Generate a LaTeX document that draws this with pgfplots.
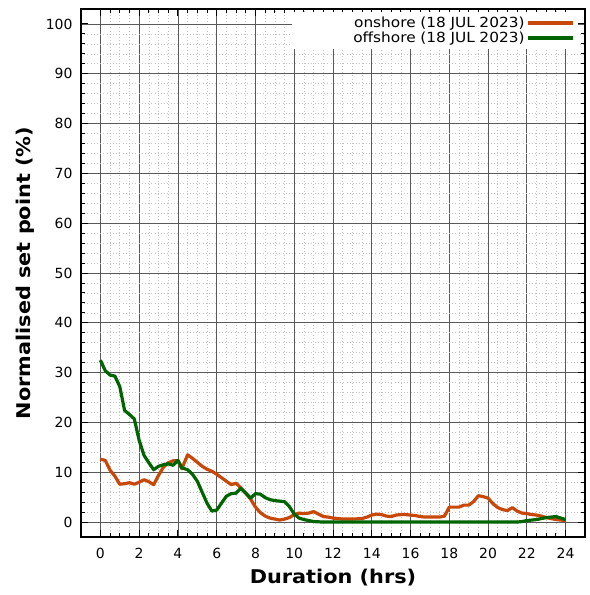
\documentclass[border=0pt]{standalone}
\usepackage{fontspec}
\setmainfont{DejaVu Sans}
\newfontfamily\widefont[FakeStretch=1.1]{DejaVu Sans}
\usepackage{pgfplots}
\pgfplotsset{compat=1.18}
\definecolor{onsh}{RGB}{200,72,10}
\definecolor{offsh}{RGB}{0,100,0}
\begin{document}
\begin{tikzpicture}
\begin{axis}[
  scale only axis, width=504bp, height=528bp,
  xmin=-1, xmax=25, ymin=-3, ymax=103,
  xtick={0,2,...,24}, ytick={0,10,...,100},
  minor x tick num=3, minor y tick num=4,
  grid=both,
  major grid style={black!65, line width=0.7bp},
  minor grid style={black!24, dash pattern=on 0.8bp off 2.4bp, line width=0.6bp},
  tick align=inside,
  major tick length=7bp, minor tick length=4bp,
  tick style={black, line width=0.9bp},
  axis line style={black, line width=1.3bp},
  /pgf/number format/assume math mode=true,
  ticklabel style={font=\fontsize{14}{16}\selectfont},
  yticklabel style={anchor=east, xshift=-5bp},
  xticklabel style={anchor=center, yshift=-16bp},
  xlabel={Duration (hrs)}, ylabel={Normalised set point (\%)},
  label style={font=\widefont\fontsize{19}{22}\selectfont\bfseries},
  xlabel style={at={(axis description cs:0.5,0)}, anchor=center, yshift=-41bp},
  ylabel style={at={(axis description cs:0,0.5)}, anchor=center, yshift=56bp},
  legend style={at={(rel axis cs:0.986,0.994)}, anchor=north east, draw=none, fill=white,
    font=\widefont\fontsize{14}{16}\selectfont, row sep=0bp, inner xsep=3bp, inner ysep=3bp,
    nodes={text width=228bp, align=right, inner ysep=1.5bp}},
  legend cell align=right, legend plot pos=right,
  legend image code/.code={\draw[#1, line width=3.2bp] (0bp,0bp) -- (45bp,0bp);},
  every axis plot/.append style={line width=3.2bp, line join=round},
]
\addplot[color=onsh] coordinates {
(0,12.6) (0.25,12.4) (0.5,10.4) (0.75,9.2) (1.0,7.6) (1.25,7.7) (1.5,7.9) (1.75,7.6)
(2.0,8.0) (2.25,8.5) (2.5,8.1) (2.75,7.5) (3.0,9.4) (3.25,11.0) (3.5,11.9) (3.75,12.3)
(4.0,12.3) (4.2,10.7) (4.5,13.5) (4.75,12.8) (5.0,12.0) (5.25,11.2) (5.5,10.6) (5.75,10.2)
(6.0,9.6) (6.25,8.9) (6.5,8.2) (6.75,7.5) (7.0,7.8) (7.25,6.8) (7.5,5.8) (7.75,4.6)
(8.0,3.0) (8.25,1.9) (8.5,1.2) (8.75,0.8) (9.0,0.6) (9.25,0.4) (9.5,0.6) (9.75,0.9)
(10.0,1.5) (10.25,1.8) (10.5,1.7) (10.75,1.8) (11.0,2.1) (11.25,1.6) (11.5,1.1) (11.75,1.0)
(12.0,0.8) (12.5,0.6) (13.0,0.6) (13.5,0.7) (13.75,1.0) (14.0,1.4) (14.25,1.6) (14.5,1.5)
(14.75,1.2) (15.0,1.1) (15.25,1.4) (15.5,1.5) (15.75,1.5) (16.0,1.4) (16.25,1.3) (16.5,1.1)
(16.75,1.0) (17.0,1.0) (17.25,1.0) (17.5,1.0) (17.75,1.2) (18.0,3.0) (18.25,3.0) (18.5,3.0)
(18.75,3.4) (19.0,3.4) (19.25,4.1) (19.5,5.3) (19.75,5.1) (20.0,4.8) (20.25,3.7) (20.5,2.9)
(20.75,2.5) (21.0,2.3) (21.25,2.9) (21.5,2.2) (21.75,1.8) (22.0,1.7) (22.25,1.5) (22.5,1.4)
(22.75,1.2) (23.0,0.9) (23.25,0.7) (23.5,0.5) (23.75,0.4) (24.0,0.3)
};
\addlegendentry{onshore (18 JUL 2023)}
\addplot[color=offsh] coordinates {
(0,32.5) (0.25,30.4) (0.5,29.5) (0.75,29.3) (1.0,27.2) (1.25,22.4) (1.5,21.6) (1.75,20.7)
(2.0,16.4) (2.25,13.4) (2.5,11.9) (2.75,10.5) (3.0,11.2) (3.25,11.5) (3.5,11.7) (3.75,11.4)
(4.0,12.4) (4.2,10.9) (4.5,10.5) (4.75,9.6) (5.0,8.2) (5.25,6.0) (5.5,3.8) (5.75,2.2)
(6.0,2.4) (6.25,3.8) (6.5,5.2) (6.75,5.7) (7.0,5.8) (7.25,6.8) (7.5,5.8) (7.75,4.8)
(8.0,5.7) (8.25,5.6) (8.5,4.9) (8.75,4.5) (9.0,4.3) (9.25,4.2) (9.5,4.1) (9.75,3.1)
(10.0,1.6) (10.25,0.8) (10.5,0.5) (10.75,0.3) (11.0,0.1) (11.5,0.0) (12.0,0.0) (13.0,0.0)
(14.0,0.0) (15.0,0.0) (16.0,0.0) (17.0,0.0) (18.0,0.0) (19.0,0.0) (20.0,0.0) (21.0,0.0)
(21.5,0.0) (21.75,0.1) (22.0,0.3) (22.25,0.4) (22.5,0.5) (22.75,0.7) (23.0,0.9) (23.25,1.0)
(23.5,1.1) (23.75,0.8) (24.0,0.5)
};
\addlegendentry{offshore (18 JUL 2023)}
\end{axis}
\path ([shift={(-81bp,-58bp)}]current axis.south west) rectangle ([shift={(5bp,9bp)}]current axis.north east);
\end{tikzpicture}
\end{document}
